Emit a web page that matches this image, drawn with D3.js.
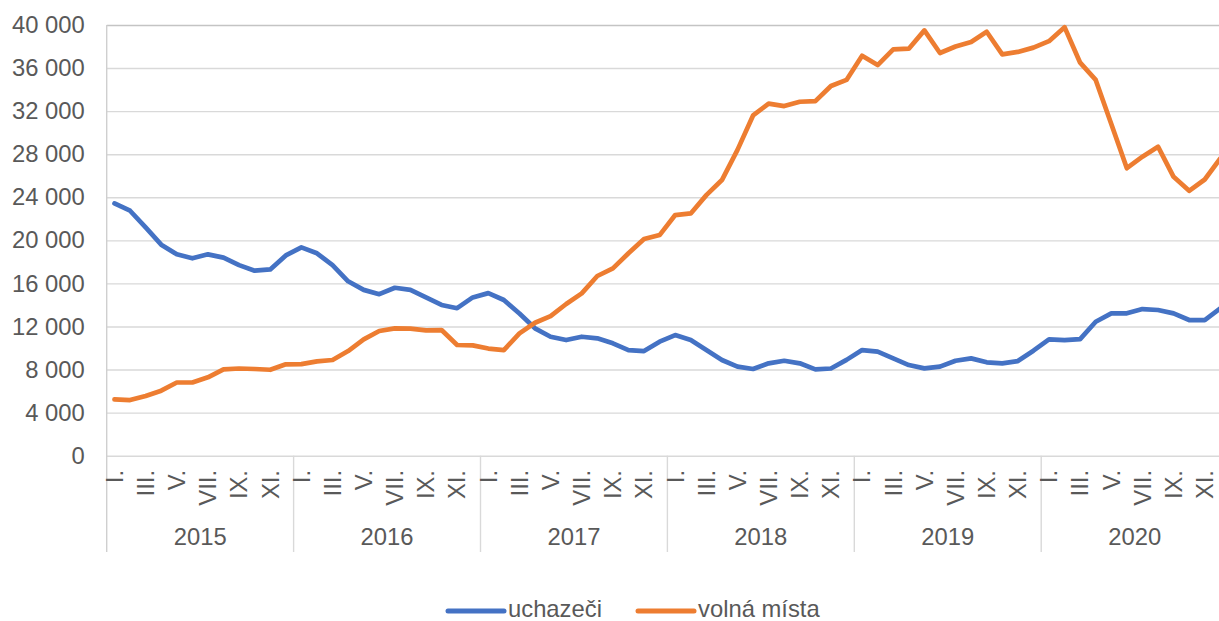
<!DOCTYPE html>
<html>
<head>
<meta charset="utf-8">
<script src="https://cdn.jsdelivr.net/npm/d3@7"></script>
<style>
    body { margin: 0; background: #fff; }
    svg { display: block; font-family: "Liberation Sans", Arial, sans-serif; }
</style>
</head>
<body>
<div id="chart"></div>
<script>
// categories
const years = ["2015", "2016", "2017", "2018", "2019", "2020"];
const months = ["I.", "II.", "III.", "IV.", "V.", "VI.", "VII.", "VIII.", "IX.", "X.", "XI.", "XII."];
const yTicks = [0, 4000, 8000, 12000, 16000, 20000, 24000, 28000, 32000, 36000, 40000];

// series values (month by month, Jan 2015 - Dec 2020)
const uchazeci = [
    23430, 22750, 21200, 19600, 18700, 18330, 18700, 18400, 17700, 17180, 17300, 18600,
    19350, 18800, 17700, 16200, 15400, 15000, 15600, 15400, 14700, 14000, 13700, 14700,
    15100, 14460, 13200, 11830, 11050, 10740, 11050, 10900, 10440, 9810, 9720, 10590,
    11200, 10740, 9810, 8890, 8270, 8050, 8580, 8820, 8580, 8020, 8100, 8900,
    9810, 9660, 9040, 8420, 8110, 8270, 8820, 9040, 8670, 8580, 8790, 9750,
    10810, 10740, 10830, 12440, 13220, 13220, 13620, 13530, 13220, 12600, 12600, 13680
];
const volnaMista = [
    5240, 5170, 5550, 6040, 6800, 6800, 7280, 8020, 8100, 8050, 7980, 8490,
    8500, 8760, 8890, 9720, 10800, 11580, 11830, 11800, 11640, 11670, 10280, 10250,
    9950, 9810, 11360, 12350, 12970, 14090, 15080, 16690, 17400, 18800, 20120, 20490,
    22350, 22500, 24200, 25600, 28400, 31600, 32700, 32470, 32870, 32930, 34330, 34900,
    37150, 36280, 37730, 37800, 39500, 37400, 38000, 38430, 39370, 37270, 37500, 37900,
    38500, 39800, 36500, 34900, 30800, 26700, 27770, 28700, 25900, 24600, 25650, 27600
];
const seriesNames = ["uchazeči", "volná místa"];
const seriesColors = ["#4472C4", "#ED7D31"];

const W = 1219, H = 621;
const plotLeft = 106.7, plotRight = 1228.1;   // plot runs a little past the window edge
const plotTop = 25, plotBottom = 455.7;
const fontSize = 23.8;
const textColor = "#595959";
const gridColor = "#d9d9d9";

const svg = d3.select("#chart").append("svg")
    .attr("width", W)
    .attr("height", H);

// month keys
let keys = [];
years.forEach(y => months.forEach(m => keys.push(y + "-" + m)));

const xScale = d3.scaleBand().domain(keys).range([plotLeft, plotRight]).padding(0);
const yearScale = d3.scaleBand().domain(years).range([plotLeft, plotRight]).padding(0);
const yScale = d3.scaleLinear().domain([0, 40000]).range([plotBottom, plotTop]);

const fmt = v => d3.format(",")(v).replace(/,/g, " ");

// horizontal gridlines + y labels
const yAxis = svg.append("g")
    .attr("transform", `translate(${plotLeft}, 0)`)
    .call(d3.axisLeft(yScale).tickValues(yTicks).tickSize(-(plotRight - plotLeft)).tickPadding(22).tickFormat(fmt));
yAxis.select(".domain").remove();
yAxis.selectAll(".tick line")
    .attr("stroke", d => d === 40000 ? "#c4c4c4" : gridColor)
    .attr("stroke-width", 1.4);
yAxis.selectAll(".tick text")
    .attr("fill", textColor)
    .style("font-size", fontSize + "px")
    .style("font-family", "'Liberation Sans', Arial, sans-serif");

// left axis line, continued down through the category labels
svg.append("line")
    .attr("x1", plotLeft).attr("x2", plotLeft)
    .attr("y1", plotTop).attr("y2", 552)
    .attr("stroke", "#cfcfcf")
    .attr("stroke-width", 1.4);

// year separators
svg.selectAll(".sep")
    .data(years.slice(1).concat(["end"]))
    .enter()
    .append("line")
    .attr("class", "sep")
    .attr("x1", (d, i) => yearScale(years[0]) + yearScale.bandwidth() * (i + 1))
    .attr("x2", (d, i) => yearScale(years[0]) + yearScale.bandwidth() * (i + 1))
    .attr("y1", plotBottom)
    .attr("y2", 552)
    .attr("stroke", gridColor)
    .attr("stroke-width", 1.4);

// month labels (every other month), rotated
const monthLabels = keys.filter((k, i) => i % 2 === 0);
svg.selectAll(".month")
    .data(monthLabels)
    .enter()
    .append("text")
    .attr("class", "month")
    .attr("transform", k => `translate(${xScale(k) + xScale.bandwidth() / 2}, 470) rotate(-90)`)
    .attr("text-anchor", "end")
    .attr("dy", "0.35em")
    .attr("fill", textColor)
    .style("font-size", fontSize + "px")
    .text(k => k.split("-")[1]);

// year labels
svg.selectAll(".year")
    .data(years)
    .enter()
    .append("text")
    .attr("class", "year")
    .attr("x", y => yearScale(y) + yearScale.bandwidth() / 2)
    .attr("y", 537)
    .attr("dy", "0.35em")
    .attr("text-anchor", "middle")
    .attr("fill", textColor)
    .style("font-size", fontSize + "px")
    .text(y => y);

// lines
const line = d3.line()
    .x((v, i) => xScale(keys[i]) + xScale.bandwidth() / 2)
    .y(v => yScale(v));

[uchazeci, volnaMista].forEach((s, i) => {
    svg.append("path")
        .datum(s)
        .attr("d", line)
        .attr("fill", "none")
        .attr("stroke", seriesColors[i])
        .attr("stroke-width", 4.7)
        .attr("stroke-linejoin", "round")
        .attr("stroke-linecap", "round");
});

// legend
const legendX = [448, 638];
const legend = svg.selectAll(".legend")
    .data(seriesNames)
    .enter()
    .append("g")
    .attr("class", "legend")
    .attr("transform", (d, i) => `translate(${legendX[i]}, 609)`);
legend.append("line")
    .attr("x1", 0).attr("x2", 56)
    .attr("y1", 2).attr("y2", 2)
    .attr("stroke", (d, i) => seriesColors[i])
    .attr("stroke-width", 5)
    .attr("stroke-linecap", "round");
legend.append("text")
    .attr("x", 60)
    .attr("dy", "0.35em")
    .attr("fill", textColor)
    .style("font-size", fontSize + "px")
    .text(d => d);
</script>
</body>
</html>
